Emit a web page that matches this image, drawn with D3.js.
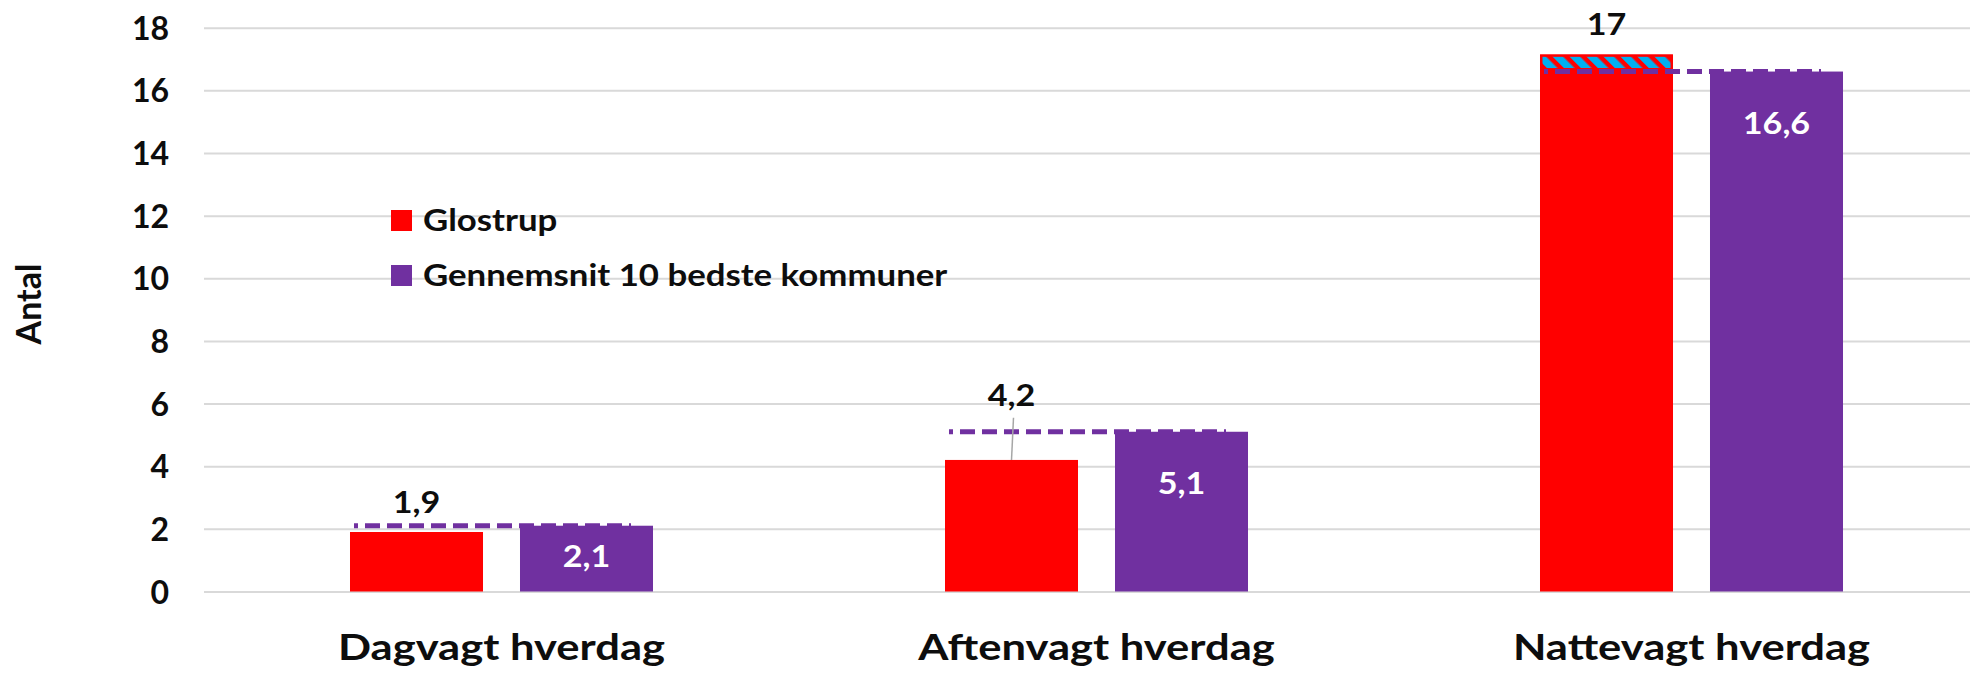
<!DOCTYPE html>
<html>
<head>
<meta charset="utf-8">
<script src="https://cdn.jsdelivr.net/npm/d3@7"></script>
<style>
  body { margin: 0; background: #fff; }
  text { font-family: Lato, sans-serif; font-weight: bold; }
</style>
</head>
<body>
<svg id="chart" width="1970" height="674"></svg>
<script>
var categories = ["Dagvagt hverdag", "Aftenvagt hverdag", "Nattevagt hverdag"];
var seriesNames = ["Glostrup", "Gennemsnit 10 bedste kommuner"];
var glostrup = [1.9, 4.2, 17.15];
var glostrupLabels = ["1,9", "4,2", "17"];
var average = [2.1, 5.1, 16.6];
var averageLabels = ["2,1", "5,1", "16,6"];
var yTicks = [0, 2, 4, 6, 8, 10, 12, 14, 16, 18];
var colors = ["#FF0000", "#7030A0"];

var width = 1970, height = 674;
var svg = d3.select("#chart");
svg.append("rect").attr("width", width).attr("height", height).attr("fill", "#fff");

var x0 = d3.scaleBand().domain(categories).range([204, 1989]).padding(0);
var x1 = d3.scaleBand().domain(seriesNames).range([0, x0.bandwidth()])
  .paddingInner(0.2176).paddingOuter(0.8588);
var y = d3.scaleLinear().domain([0, 18]).range([591.5, 27.7]);

// hatch pattern for the part of a bar over the average
var defs = svg.append("defs");
var pat = defs.append("pattern").attr("id", "hatch")
  .attr("patternUnits", "userSpaceOnUse").attr("width", 12).attr("height", 12)
  .attr("patternTransform", "rotate(-45)");
pat.append("rect").attr("width", 12).attr("height", 12).attr("fill", "#FF0000");
pat.append("rect").attr("width", 7.5).attr("height", 12).attr("fill", "#00B0F0");

// gridlines + tick labels
var yAxis = d3.axisLeft(y).tickValues(yTicks).tickSize(0).tickPadding(35);
var gy = svg.append("g").attr("transform", "translate(204,0)").call(yAxis);
gy.select(".domain").remove();
gy.selectAll(".tick line").attr("x2", width - 204).attr("stroke", "#d9d9d9").attr("stroke-width", 2);
gy.selectAll(".tick text").attr("font-size", 32).attr("fill", "#0d0d0d")
  .attr("font-family", "Lato, sans-serif").attr("font-weight", "bold").attr("dy", "0.36em");

// y title
svg.append("text")
  .attr("transform", "translate(41,304) rotate(-90)")
  .attr("text-anchor", "middle").attr("font-size", 34).attr("fill", "#0d0d0d")
  .text("Antal");

var groups = svg.append("g").selectAll("g").data(categories).enter().append("g")
  .attr("transform", function(d) { return "translate(" + x0(d) + ",0)"; });

// bars
groups.append("rect")
  .attr("x", x1(seriesNames[0])).attr("width", x1.bandwidth())
  .attr("y", function(d, i) { return y(glostrup[i]); })
  .attr("height", function(d, i) { return y(0) - y(glostrup[i]); })
  .attr("fill", colors[0]);
groups.append("rect")
  .attr("x", x1(seriesNames[1])).attr("width", x1.bandwidth())
  .attr("y", function(d, i) { return y(average[i]); })
  .attr("height", function(d, i) { return y(0) - y(average[i]); })
  .attr("fill", colors[1]);

// hatched excess over the average
groups.filter(function(d, i) { return glostrup[i] > average[i]; })
  .append("rect")
  .attr("x", x1(seriesNames[0]) + 1.5).attr("width", x1.bandwidth() - 3)
  .attr("y", function(d) { var i = categories.indexOf(d); return y(glostrup[i]) + 1.5; })
  .attr("height", function(d) { var i = categories.indexOf(d); return y(average[i]) - y(glostrup[i]) - 4; })
  .attr("fill", "url(#hatch)").attr("stroke", "#FF0000").attr("stroke-width", 2);

// dashed average line
groups.append("line")
  .attr("x1", x1(seriesNames[0]) + 4)
  .attr("x2", x1(seriesNames[1]) + x1.bandwidth() - 22)
  .attr("y1", function(d, i) { return y(average[i]); })
  .attr("y2", function(d, i) { return y(average[i]); })
  .attr("stroke", colors[1]).attr("stroke-width", 5)
  .attr("stroke-dasharray", "15,7").attr("stroke-dashoffset", 11);

// Glostrup labels: above the bar, lifted over the average line if they'd collide
var cx0 = x1(seriesNames[0]) + x1.bandwidth() / 2;
groups.each(function(d, i) {
  var g = d3.select(this);
  var top = y(glostrup[i]);
  var base = top - 19;
  var avgY = y(average[i]);
  if (avgY > base - 25 && avgY < base + 3) {
    base = avgY - 26;
    g.append("line").attr("x1", cx0 + 2).attr("x2", cx0)
      .attr("y1", base + 12).attr("y2", top)
      .attr("stroke", "#a6a6a6").attr("stroke-width", 1.5);
  }
  g.append("text").attr("transform", "translate(" + cx0 + "," + base + ") scale(1.1,1)")
    .attr("text-anchor", "middle").attr("font-size", 31).attr("fill", "#0d0d0d")
    .text(glostrupLabels[i]);
});

// average labels inside purple bars
var cx1 = x1(seriesNames[1]) + x1.bandwidth() / 2;
groups.append("text")
  .attr("transform", function(d, i) {
    var t = y(average[i]);
    var base = Math.min(t + 62, (t + y(0)) / 2 + 8);
    return "translate(" + cx1 + "," + base + ") scale(1.1,1)";
  })
  .attr("text-anchor", "middle").attr("font-size", 31).attr("fill", "#fff")
  .text(function(d, i) { return averageLabels[i]; });

// category labels
groups.append("text")
  .attr("transform", "translate(" + (x0.bandwidth() / 2) + ",660) scale(1.21,1)")
  .attr("text-anchor", "middle").attr("font-size", 36).attr("fill", "#0d0d0d")
  .text(function(d) { return d; });

// legend
var leg = svg.append("g").selectAll("g").data(seriesNames).enter().append("g")
  .attr("transform", function(d, i) { return "translate(391," + (210 + i * 55) + ")"; });
leg.append("rect").attr("width", 21).attr("height", 21)
  .attr("fill", function(d, i) { return colors[i]; });
leg.append("text").attr("transform", "translate(32,21) scale(1.16,1)")
  .attr("font-size", 30).attr("fill", "#0d0d0d")
  .text(function(d) { return d; });
</script>
</body>
</html>
